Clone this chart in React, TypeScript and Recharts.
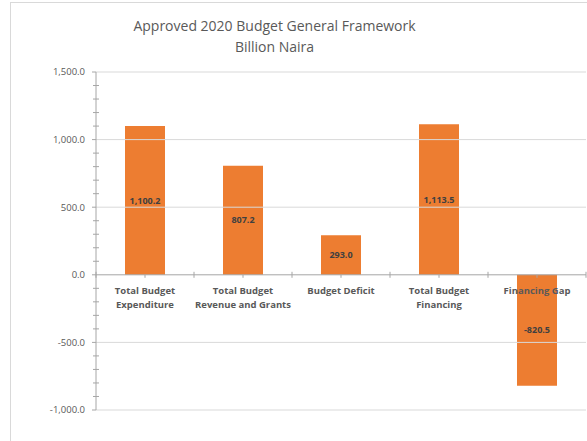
import React from 'react'
import { BarChart, Bar, XAxis, YAxis, ReferenceLine, LabelList } from 'recharts'

const categories = [
  'Total Budget Expenditure',
  'Total Budget Revenue and Grants',
  'Budget Deficit',
  'Total Budget Financing',
  'Financing Gap',
]
const categoryLines = [
  ['Total Budget', 'Expenditure'],
  ['Total Budget', 'Revenue and Grants'],
  ['Budget Deficit'],
  ['Total Budget', 'Financing'],
  ['Financing Gap'],
]
const values = [1100.2, 807.2, 293.0, 1113.5, -820.5]

const majorTicks = [-1000, -500, 0, 500, 1000, 1500]
const allTicks = [
  -1000, -900, -800, -700, -600, -500, -400, -300, -200, -100, 0, 100, 200, 300, 400, 500,
  600, 700, 800, 900, 1000, 1100, 1200, 1300, 1400, 1500,
]

const data = categories.map((name, i) => ({ name, value: values[i] }))

// layout
const W = 576
const H = 438
const MARGIN = { top: 69, right: 1, bottom: 30, left: 0 }
const Y_AXIS_W = 85
const PLOT_TOP = MARGIN.top
const PLOT_H = H - MARGIN.top - MARGIN.bottom - 1
const PLOT_W = W - MARGIN.left - MARGIN.right - Y_AXIS_W
const Y_MIN = -1000
const Y_MAX = 1500

const FONT = '"Open Sans", sans-serif'
const TEXT = '#595959'

const fmt = (v: number) =>
  v.toLocaleString('en-US', { minimumFractionDigits: 1, maximumFractionDigits: 1 })

function YTick(props: any) {
  const { x, y, payload } = props
  const v = payload.value
  if (majorTicks.includes(v)) {
    return (
      <g>
        <line x1={x - 4} x2={x} y1={y} y2={y} stroke="#a6a6a6" />
        <text x={x - 11} y={y} dy="0.35em" textAnchor="end" fontSize={9.5} fill={TEXT} fontFamily={FONT}>
          {fmt(v)}
        </text>
      </g>
    )
  }
  return <line x1={x - 3} x2={x + 3} y1={y} y2={y} stroke="#a6a6a6" />
}

function CategoryTick(props: any) {
  const { x, index } = props
  const zeroY = PLOT_TOP + (PLOT_H * Y_MAX) / (Y_MAX - Y_MIN)
  const band = PLOT_W / categories.length
  const lines = categoryLines[index] || []
  return (
    <g>
      <line x1={x - band / 2} x2={x - band / 2} y1={zeroY - 3} y2={zeroY + 3} stroke="#a6a6a6" />
      {index === categories.length - 1 && (
        <line x1={x + band / 2} x2={x + band / 2} y1={zeroY - 3} y2={zeroY + 3} stroke="#a6a6a6" />
      )}
      <line x1={x} x2={x} y1={zeroY} y2={zeroY + 3} stroke="#a6a6a6" />
      <text textAnchor="middle" fontSize={9.5} fontWeight="bold" fill={TEXT} fontFamily={FONT}>
        {lines.map((l, i) => (
          <tspan key={i} x={x} y={zeroY + 19.5 + i * 14}>
            {l}
          </tspan>
        ))}
      </text>
    </g>
  )
}

export default function App() {
  return (
    <div
      style={{
        position: 'absolute',
        left: 10,
        top: 2,
        width: 577,
        height: 439,
        borderTop: '1px solid #d9d9d9',
        borderLeft: '1px solid #d9d9d9',
        overflow: 'hidden',
        background: '#fff',
      }}
    >
      <div
        style={{
          position: 'absolute',
          left: 0,
          top: 12,
          width: 527,
          textAlign: 'center',
          fontFamily: FONT,
          fontSize: 14,
          lineHeight: '21px',
          color: TEXT,
        }}
      >
        Approved 2020 Budget General Framework
        <br />
        Billion Naira
      </div>
      <BarChart width={W} height={H} data={data} margin={MARGIN} barSize={40}>
        <YAxis
          type="number"
          domain={[Y_MIN, Y_MAX]}
          ticks={allTicks}
          interval={0}
          width={Y_AXIS_W}
          tickSize={0}
          tickMargin={0}
          tickLine={false}
          axisLine={{ stroke: '#a6a6a6' }}
          tick={<YTick />}
        />
        {majorTicks
          .filter((t) => t !== 0)
          .map((t) => (
            <ReferenceLine key={t} y={t} stroke="#d9d9d9" />
          ))}
        <ReferenceLine y={0} stroke="#a6a6a6" />
        <Bar dataKey="value" fill="#ED7D31" isAnimationActive={false}>
          <LabelList
            dataKey="value"
            position="center"
            formatter={(v: any) => fmt(Number(v))}
            fontSize={9}
            fontWeight="bold"
            fill="#404040"
            fontFamily={FONT}
          />
        </Bar>
        <XAxis
          dataKey="name"
          height={1}
          axisLine={false}
          tickLine={false}
          interval={0}
          tick={<CategoryTick />}
        />
      </BarChart>
    </div>
  )
}
